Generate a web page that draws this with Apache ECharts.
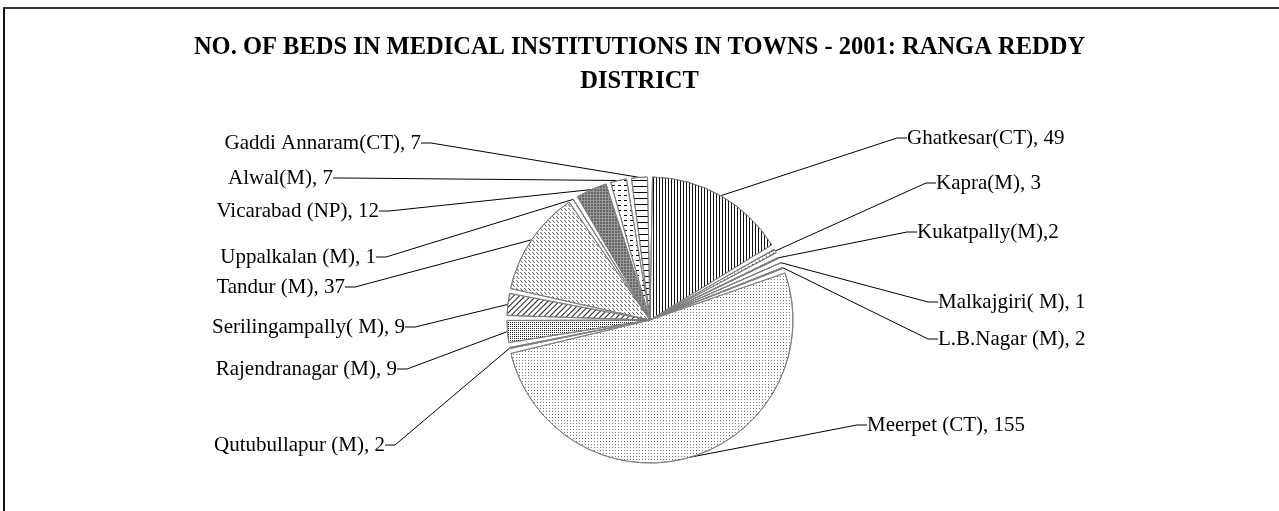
<!DOCTYPE html>
<html>
<head>
<meta charset="utf-8">
<script src="https://cdn.jsdelivr.net/npm/echarts@6/dist/echarts.min.js"></script>
<style>
html, body { margin: 0; padding: 0; background: #fff; overflow: hidden; }
#frame {
  position: absolute; left: 3px; top: 7px; width: 1400px; height: 600px;
  border-top: 2px solid #333; border-left: 2px solid #111;
}
#main { position: absolute; left: 0; top: 0; width: 1279px; height: 511px; }
</style>
</head>
<body>
<div id="frame"></div>
<div id="main"></div>
<script>
// towns, clockwise from 12 o'clock
const towns = [
  'Ghatkesar(CT)', 'Kapra(M)', 'Kukatpally(M)', 'Malkajgiri( M)', 'L.B.Nagar (M)',
  'Meerpet (CT)', 'Qutubullapur (M)', 'Rajendranagar (M)', 'Serilingampally( M)',
  'Tandur (M)', 'Uppalkalan (M)', 'Vicarabad (NP)', 'Alwal(M)', 'Gaddi Annaram(CT)'
]
const beds = [49, 3, 2, 1, 2, 155, 2, 9, 9, 37, 1, 12, 7, 7]

// where each label sits: [x, y, align]
const labelSpots = [
  [904, 138, 'left'], [933, 183, 'left'], [914, 232, 'left'], [935, 302, 'left'],
  [935, 339, 'left'], [864, 425, 'left'], [388, 445, 'right'], [400, 369, 'right'],
  [408, 327, 'right'], [348, 287, 'right'], [379, 257, 'right'], [382, 211, 'right'],
  [336, 178, 'right'], [424, 143, 'right']
]

// fill colour + hatch pattern for each slice
const fills = ['#fff', '#fff', '#666', '#555', '#444', '#fff', '#999', '#fff', '#fff', '#fff', '#888', '#999', '#fff', '#fff']
const patterns = [
  { symbol: 'rect', color: '#111', dashArrayX: [1, 0], dashArrayY: [1, 2], rotation: Math.PI / 2 },
  { symbol: 'triangle', color: '#000', dashArrayX: [3, 1], dashArrayY: [3, 1], rotation: -0.5 },
  { symbol: 'rect', color: '#222', dashArrayX: [1, 1], dashArrayY: [1, 1] },
  { symbol: 'none' },
  { symbol: 'rect', color: '#888', dashArrayX: [1, 2], dashArrayY: [1, 2] },
  { symbol: 'rect', color: '#777', dashArrayX: [1, 2], dashArrayY: [1, 2] },
  { symbol: 'none' },
  { symbol: 'rect', color: '#222', dashArrayX: [1, 1], dashArrayY: [1, 1] },
  { symbol: 'rect', color: '#222', dashArrayX: [1, 0], dashArrayY: [1, 3], rotation: -Math.PI / 4 },
  { symbol: 'path://M0,0L1,0L4,4L3,4Z', color: '#222', dashArrayX: [3, 1], dashArrayY: [3, 1] },
  { symbol: 'none' },
  { symbol: 'diamond', color: '#333', dashArrayX: [2, 1], dashArrayY: [2, 1] },
  { symbol: 'rect', color: '#000', dashArrayX: [3, 3], dashArrayY: [1, 4] },
  { symbol: 'rect', color: '#000', dashArrayX: [1, 0], dashArrayY: [1, 5] }
]

const chart = echarts.init(document.getElementById('main'))

const option = {
  animation: false,
  title: {
    text: 'NO. OF BEDS IN MEDICAL INSTITUTIONS IN TOWNS - 2001: RANGA REDDY\nDISTRICT',
    left: 'center',
    top: 26,
    textStyle: {
      fontFamily: 'Liberation Serif',
      fontWeight: 'bold',
      fontSize: 24.5,
      lineHeight: 34,
      color: '#000'
    }
  },
  series: [
    {
      type: 'pie',
      center: [650, 320],
      radius: 143,
      startAngle: 90,
      clockwise: true,
      padAngle: 2,
      avoidLabelOverlap: false,
      emphasis: { disabled: true },
      itemStyle: { borderColor: '#808080', borderWidth: 1 },
      label: {
        show: true,
        position: 'outer',
        fontFamily: 'Liberation Serif',
        fontSize: 21,
        color: '#000',
        padding: [0, 3],
        formatter: p => p.name + (p.name === 'Kukatpally(M)' ? ',' : ', ') + p.value
      },
      labelLine: {
        show: true,
        length: 15,
        length2: 10,
        lineStyle: { color: '#000', width: 1 }
      },
      labelLayout: params => {
        const s = labelSpots[params.dataIndex]
        return { x: s[0], y: s[1], align: s[2], verticalAlign: 'middle' }
      },
      data: towns.map((t, i) => ({
        name: t,
        value: beds[i],
        itemStyle: { color: fills[i], decal: patterns[i] }
      }))
    }
  ]
}

chart.setOption(option)
</script>
</body>
</html>
